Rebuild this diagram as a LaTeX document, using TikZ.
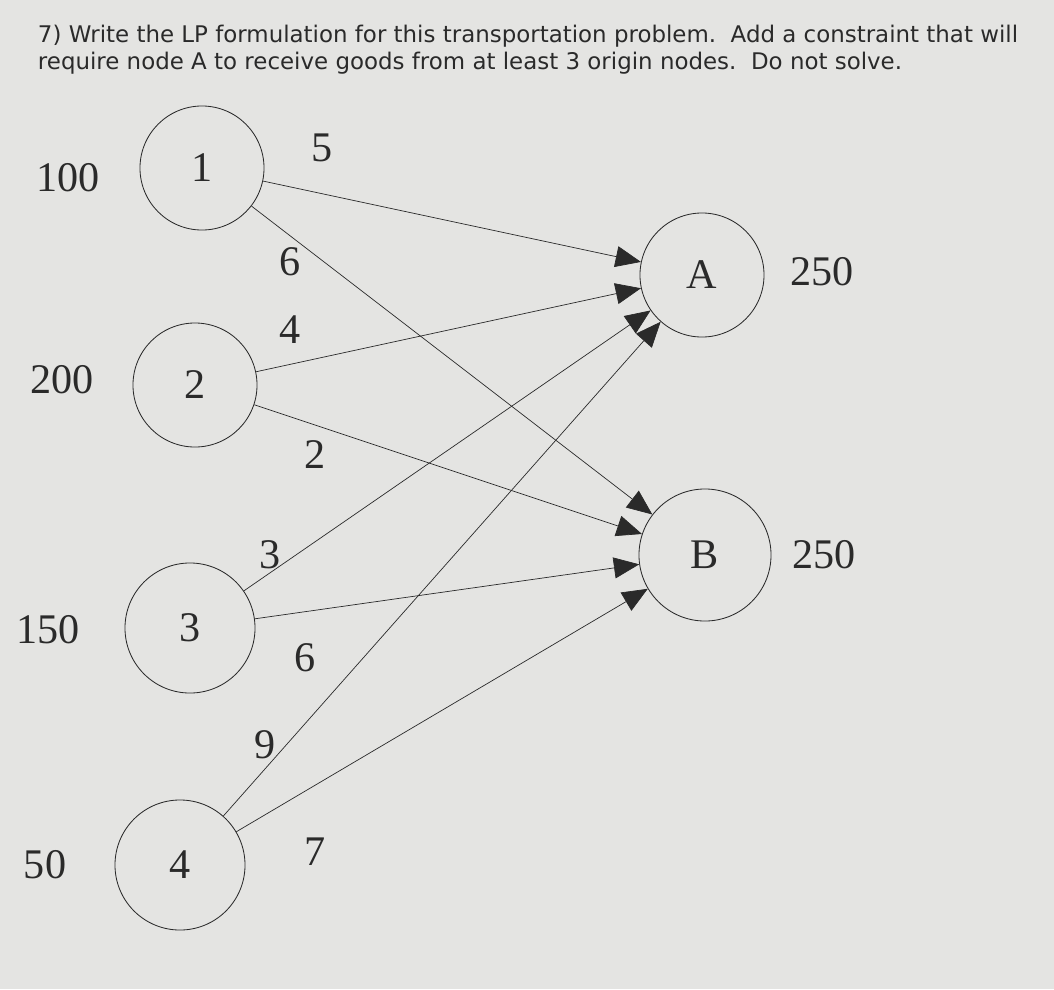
\documentclass[tikz,border=0pt]{standalone}
\usepackage{fontspec}
\setmainfont{Liberation Serif}
\newfontfamily\titlefont{DejaVu Sans}
\usetikzlibrary{arrows.meta}
\definecolor{paper}{HTML}{E4E4E2}
\definecolor{ink}{HTML}{2A2A2A}
\begin{document}
\begin{tikzpicture}[x=0.025cm,y=-0.025cm,
  lbl/.style={font=\fontsize{30}{33}\selectfont,text=ink},
  arr/.style={draw=ink,line width=0.5pt,-{Triangle[length=18pt,width=15pt]}}]
\fill[paper] (0,0) rectangle (1054,989);
\useasboundingbox (0,0) rectangle (1054,989);
\node[anchor=west,font=\titlefont\fontsize{16.3}{19}\selectfont,text=ink,align=left] (t) at (33,50)
 {7) Write the LP formulation for this transportation problem.\ \ Add a constraint that will\\
  require node A to receive goods from at least 3 origin nodes.\ \ Do not solve.};
\tikzset{circ/.style={draw=ink,circle,minimum size=3.1cm,inner sep=0pt,line width=0.6pt,font=\fontsize{30}{33}\selectfont,text=ink}}
\node[circ] (n1) at (202,168) {1};
\node[circ] (n2) at (195,385) {2};
\node[circ,minimum size=3.25cm] (n3) at (190,628) {3};
\node[circ,minimum size=3.25cm] (n4) at (180,865) {4};
\node[circ] (A) at (702,275) {A};
\node[circ,minimum size=3.3cm] (B) at (705,555) {B};
\node[lbl] (s1) at (68,178) {100};
\node[lbl] (s2) at (62,380) {200};
\node[lbl] (s3) at (48,630) {150};
\node[lbl] (s4) at (45,865) {50};
\node[lbl] (dA) at (822,272) {250};
\node[lbl] (dB) at (824,555) {250};
\draw[arr] (n1) -- (A);
\draw[arr] (n1) -- (B);
\draw[arr] (n2) -- (A);
\draw[arr] (n2) -- (B);
\draw[arr] (n3) -- (A);
\draw[arr] (n3) -- (B);
\draw[arr] (n4) -- (A);
\draw[arr] (n4) -- (B);
\node[lbl] (c1) at (322,148) {5};
\node[lbl] (c2) at (290,262) {6};
\node[lbl] (c3) at (290,330) {4};
\node[lbl] (c4) at (315,455) {2};
\node[lbl] (c5) at (270,555) {3};
\node[lbl] (c6) at (305,658) {6};
\node[lbl] (c7) at (265,745) {9};
\node[lbl] (c8) at (315,852) {7};
\end{tikzpicture}
\end{document}
